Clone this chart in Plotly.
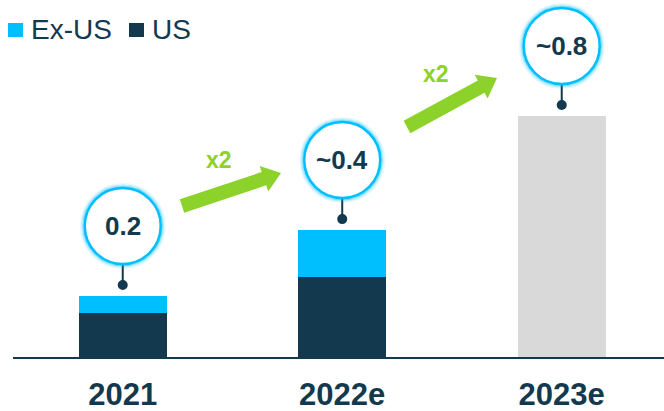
import math
import plotly.graph_objects as go

# ---------------- data ----------------
categories = ["2021", "2022e", "2023e"]
us_values = [0.144, 0.262, None]
ex_us_values = [0.056, 0.154, None]
estimate_values = [None, None, 0.79]
bubble_labels = ["0.2", "~0.4", "~0.8"]
growth_labels = ["x2", "x2"]
legend_names = ["Ex-US", "US"]

# ---------------- style ----------------
NAVY = "#13394F"
CYAN = "#00BFFF"
GRAY = "#D9D9D9"
GREEN = "#8DD22B"
FONT = "Liberation Sans, Arial, sans-serif"

W, H = 664, 411
ML, MR, MT, MB = 13, 0, 0, 54
PW, PH = W - ML - MR, H - MT - MB

xs = list(range(len(categories)))
totals = []
for u, e, s in zip(us_values, ex_us_values, estimate_values):
    totals.append((u or 0) + (e or 0) + (s or 0))

fig = go.Figure()
fig.add_trace(go.Bar(x=xs, y=us_values, name="US", marker=dict(color=NAVY, line=dict(width=0)),
                     width=0.4, showlegend=False))
fig.add_trace(go.Bar(x=xs, y=ex_us_values, name="Ex-US", marker=dict(color=CYAN, line=dict(width=0)),
                     width=0.4, showlegend=False))
fig.add_trace(go.Bar(x=xs, y=estimate_values, name="Estimate", marker=dict(color=GRAY, line=dict(width=0)),
                     width=0.4, showlegend=False))

shapes = []
annotations = []

# bubbles with connectors
R = 39
C_OFF = 70
DOT_OFF = 11
for i, tot in enumerate(totals):
    common = dict(xref="x", yref="y", xsizemode="pixel", ysizemode="pixel", xanchor=xs[i], yanchor=tot)
    shapes.append(dict(type="line", x0=0, x1=0, y0=DOT_OFF, y1=C_OFF - R + 2,
                       line=dict(color=NAVY, width=2), **common))
    shapes.append(dict(type="circle", x0=-5, x1=5, y0=DOT_OFF - 5, y1=DOT_OFF + 5,
                       fillcolor=NAVY, line=dict(width=0), **common))
    for wdt, op in [(10, 0.10), (7, 0.18), (4.5, 0.3)]:
        shapes.append(dict(type="circle", x0=-R + 1, x1=R - 1, y0=C_OFF - R + 1, y1=C_OFF + R - 1,
                           line=dict(color=f"rgba(0,191,255,{op})", width=wdt), **common))
    shapes.append(dict(type="circle", x0=-R + 1, x1=R - 1, y0=C_OFF - R + 1, y1=C_OFF + R - 1,
                       fillcolor="white", line=dict(color=CYAN, width=2.5), **common))
    annotations.append(dict(x=xs[i], y=tot, xref="x", yref="y", yshift=C_OFF, text=f"<b>{bubble_labels[i]}</b>",
                            showarrow=False, font=dict(family=FONT, size=26, color=NAVY),
                            xanchor="center", yanchor="middle"))


def px2paper(px, py):
    return (px - ML) / PW, (H - MB - py) / PH


def arrow_path(start, tip, shaft=14, head_w=27, head_l=18):
    sx, sy = start
    tx, ty = tip
    L = math.hypot(tx - sx, ty - sy)
    ux, uy = (tx - sx) / L, (ty - sy) / L
    nx, ny = -uy, ux
    bx, by = tx - ux * head_l, ty - uy * head_l
    pts = [
        (sx + nx * shaft / 2, sy + ny * shaft / 2),
        (bx + nx * shaft / 2, by + ny * shaft / 2),
        (bx + nx * head_w / 2, by + ny * head_w / 2),
        (tx, ty),
        (bx - nx * head_w / 2, by - ny * head_w / 2),
        (bx - nx * shaft / 2, by - ny * shaft / 2),
        (sx - nx * shaft / 2, sy - ny * shaft / 2),
    ]
    pp = [px2paper(x, y) for x, y in pts]
    return "M " + " L ".join(f"{x:.5f},{y:.5f}" for x, y in pp) + " Z"


arrows = [((182, 206), (281, 173)), ((407, 127), (497, 78))]
growth_pos = [(219, 160), (436, 74)]
for (st, tp), lab, (gx, gy) in zip(arrows, growth_labels, growth_pos):
    shapes.append(dict(type="path", xref="paper", yref="paper", path=arrow_path(st, tp),
                       fillcolor=GREEN, line=dict(width=0)))
    px_, py_ = px2paper(gx, gy)
    annotations.append(dict(x=px_, y=py_, xref="paper", yref="paper", text=f"<b>{lab}</b>", showarrow=False,
                            font=dict(family=FONT, size=23, color=GREEN), xanchor="center", yanchor="middle"))

# manual legend
legend_items = [(legend_names[0], CYAN, 8, 31), (legend_names[1], NAVY, 129, 152)]
for name, col, sqx, tx in legend_items:
    x0, y0 = px2paper(sqx, 37)
    x1, y1 = px2paper(sqx + 15, 23)
    shapes.append(dict(type="rect", xref="paper", yref="paper", x0=x0, x1=x1, y0=y0, y1=y1,
                       fillcolor=col, line=dict(width=0)))
    ax_, ay_ = px2paper(tx - 2, 29)
    annotations.append(dict(x=ax_, y=ay_, xref="paper", yref="paper", text=name, showarrow=False,
                            font=dict(family=FONT, size=28, color=NAVY), xanchor="left", yanchor="middle"))

fig.update_layout(
    width=W, height=H,
    margin=dict(l=ML, r=MR, t=MT, b=MB, autoexpand=False),
    barmode="stack",
    plot_bgcolor="white", paper_bgcolor="white",
    showlegend=False,
    shapes=shapes, annotations=annotations,
    xaxis=dict(range=[-0.5, 2.466], tickmode="array", tickvals=xs, ticktext=[f"<b>{c}</b>" for c in categories],
               tickfont=dict(family=FONT, size=31, color=NAVY), showgrid=False, zeroline=False, automargin=False,
               showline=True, linecolor=NAVY, linewidth=2, ticks="", ticklabelstandoff=9, fixedrange=True),
    yaxis=dict(range=[0, PH / 305], visible=False, showgrid=False, zeroline=False, fixedrange=True,
               automargin=False),
)

fig.write_html("out.html", config={"displayModeBar": False},
               post_script="document.body.style.margin='0';document.body.style.overflow='hidden';")
